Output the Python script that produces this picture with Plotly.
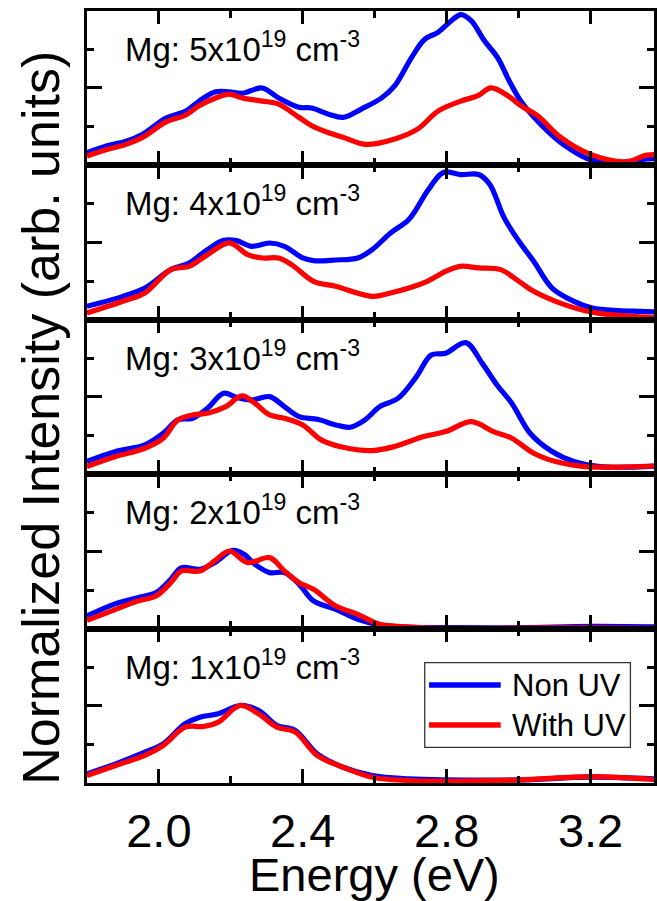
import plotly.graph_objects as go

# ---------------- data ----------------
# Panel labels, top to bottom
labels = ["Mg: 5x10<sup>19</sup> cm<sup>-3</sup>",
          "Mg: 4x10<sup>19</sup> cm<sup>-3</sup>",
          "Mg: 3x10<sup>19</sup> cm<sup>-3</sup>",
          "Mg: 2x10<sup>19</sup> cm<sup>-3</sup>",
          "Mg: 1x10<sup>19</sup> cm<sup>-3</sup>"]
series_names = ["Non UV", "With UV"]
xtick_vals = [2.0, 2.4, 2.8, 3.2]
xtick_text = ["2.0", "2.4", "2.8", "3.2"]

# Mg 5x10^19
E5_non = [1.80, 1.854, 1.909, 1.955, 2.02, 2.075, 2.112, 2.158, 2.195, 2.232, 2.287, 2.333, 2.389, 2.425,
          2.472, 2.513, 2.564, 2.619, 2.656, 2.702, 2.739, 2.776, 2.813, 2.84, 2.868, 2.905, 2.942, 2.974,
          3.006, 3.043, 3.09, 3.136, 3.2, 3.30, 3.356, 3.40]
I5_non = [0.163, 0.25, 0.31, 0.40, 0.61, 0.70, 0.83, 0.95, 0.95, 0.93, 1.0, 0.87, 0.75, 0.74,
          0.66, 0.62, 0.73, 0.87, 1.03, 1.39, 1.63, 1.72, 1.87, 1.95, 1.87, 1.61, 1.39, 1.09,
          0.83, 0.62, 0.40, 0.23, 0.07, 0.034, 0.08, 0.08]
E5_uv = [1.80, 1.854, 1.909, 1.955, 2.02, 2.075, 2.112, 2.158, 2.195, 2.232, 2.287, 2.333, 2.389, 2.425,
         2.472, 2.513, 2.573, 2.656, 2.72, 2.776, 2.84, 2.887, 2.923, 2.97, 3.006, 3.053, 3.117, 3.2,
         3.30, 3.356, 3.40]
I5_uv = [0.12, 0.20, 0.27, 0.36, 0.56, 0.65, 0.77, 0.87, 0.92, 0.87, 0.83, 0.79, 0.62, 0.51,
         0.42, 0.36, 0.27, 0.34, 0.47, 0.70, 0.83, 0.90, 1.0, 0.90, 0.77, 0.64, 0.36, 0.14,
         0.045, 0.13, 0.13]

# Mg 4x10^19
E4_non = [1.80, 1.900, 1.961, 2.033, 2.084, 2.135, 2.180, 2.216, 2.257, 2.308, 2.349, 2.400, 2.430, 2.491,
          2.553, 2.593, 2.644, 2.695, 2.746, 2.782, 2.797, 2.838, 2.889, 2.920, 2.960, 3.001, 3.042, 3.093,
          3.154, 3.205, 3.277, 3.338, 3.40]
I4_non = [0.173, 0.302, 0.410, 0.648, 0.734, 0.907, 1.028, 1.024, 0.950, 0.993, 0.950, 0.799, 0.764, 0.773,
          0.799, 0.907, 1.123, 1.296, 1.663, 1.879, 1.914, 1.879, 1.879, 1.750, 1.318, 1.015, 0.756, 0.410,
          0.238, 0.151, 0.117, 0.108, 0.099]
E4_uv = [1.80, 1.900, 1.961, 2.033, 2.084, 2.135, 2.196, 2.247, 2.288, 2.333, 2.369, 2.430, 2.491, 2.593,
         2.644, 2.695, 2.746, 2.797, 2.838, 2.889, 2.950, 3.001, 3.042, 3.103, 3.185, 3.256, 3.40]
I4_uv = [0.086, 0.238, 0.346, 0.648, 0.691, 0.842, 0.994, 0.842, 0.799, 0.799, 0.713, 0.497, 0.432, 0.302,
         0.346, 0.410, 0.497, 0.626, 0.691, 0.670, 0.648, 0.497, 0.367, 0.238, 0.117, 0.065, 0.022]

# Mg 3x10^19
E3_non = [1.80, 1.880, 1.961, 2.012, 2.053, 2.094, 2.135, 2.180, 2.216, 2.257, 2.308, 2.349, 2.390, 2.441,
          2.492, 2.532, 2.573, 2.614, 2.665, 2.716, 2.757, 2.797, 2.853, 2.899, 2.940, 2.981, 3.032, 3.093,
          3.154, 3.226, 3.307, 3.40]
I3_non = [0.164, 0.293, 0.379, 0.530, 0.703, 0.724, 0.853, 1.047, 0.996, 0.961, 1.004, 0.875, 0.746, 0.711,
          0.638, 0.608, 0.703, 0.875, 0.983, 1.263, 1.543, 1.565, 1.703, 1.435, 1.155, 0.918, 0.530, 0.293,
          0.164, 0.099, 0.091, 0.11]
E3_uv = [1.80, 1.880, 1.961, 2.012, 2.053, 2.094, 2.135, 2.186, 2.231, 2.267, 2.308, 2.349, 2.400, 2.451,
         2.512, 2.593, 2.655, 2.736, 2.797, 2.869, 2.930, 2.981, 3.042, 3.103, 3.185, 3.256, 3.40]
I3_uv = [0.099, 0.228, 0.336, 0.466, 0.703, 0.767, 0.789, 0.875, 1.013, 0.918, 0.767, 0.724, 0.638, 0.444,
         0.349, 0.306, 0.358, 0.487, 0.552, 0.681, 0.552, 0.466, 0.272, 0.164, 0.099, 0.091, 0.11]

# Mg 2x10^19
E2_non = [1.80, 1.880, 1.941, 1.992, 2.033, 2.063, 2.114, 2.155, 2.206, 2.237, 2.267, 2.308, 2.349, 2.390,
          2.430, 2.492, 2.553, 2.614, 2.695, 2.797, 3.001, 3.205, 3.40]
I2_non = [0.164, 0.324, 0.402, 0.467, 0.640, 0.791, 0.769, 0.855, 1.015, 0.963, 0.834, 0.726, 0.726, 0.575,
          0.359, 0.251, 0.121, 0.048, 0.022, 0.013, 0.013, 0.030, 0.022]
E2_uv = [1.80, 1.880, 1.941, 1.992, 2.033, 2.063, 2.114, 2.155, 2.196, 2.247, 2.308, 2.349, 2.390, 2.430,
         2.492, 2.553, 2.614, 2.695, 2.797, 3.001, 3.205, 3.40]
I2_uv = [0.108, 0.251, 0.359, 0.423, 0.596, 0.747, 0.747, 0.877, 1.006, 0.855, 0.920, 0.747, 0.596, 0.510,
         0.294, 0.186, 0.056, 0.022, 0.004, 0.008, 0.012, 0.005]

# Mg 1x10^19
E1_non = [1.80, 1.880, 1.961, 2.012, 2.073, 2.114, 2.165, 2.226, 2.277, 2.328, 2.379, 2.440, 2.512, 2.593,
          2.695, 2.797, 3.001, 3.205, 3.40]
I1_non = [0.121, 0.251, 0.402, 0.510, 0.769, 0.855, 0.898, 1.006, 0.942, 0.747, 0.683, 0.380, 0.207, 0.099,
          0.056, 0.043, 0.043, 0.078, 0.05]
E1_uv = [1.80, 1.880, 1.961, 2.012, 2.073, 2.124, 2.165, 2.226, 2.277, 2.328, 2.379, 2.440, 2.512, 2.593,
         2.695, 2.797, 3.001, 3.205, 3.40]
I1_uv = [0.099, 0.229, 0.359, 0.488, 0.726, 0.734, 0.791, 1.006, 0.898, 0.726, 0.661, 0.359, 0.207, 0.078,
         0.035, 0.026, 0.043, 0.086, 0.04]

# ---------------- layout geometry (pixels) ----------------
W, H = 657, 901
PL, PR = 87.3, 657.0          # plot left / right (right spine lies just outside the crop)
PT, PH = 10.7, 154.5          # top of first panel, panel height
PX_PER_EV = 361.4
XMIN = 1.8
XMAX = XMIN + (PR - PL) / PX_PER_EV

FONT = "Liberation Sans, Arial, Helvetica, sans-serif"
BLUE, RED = "#0000FF", "#FF0000"
LW = 5.2

panels = [(E5_non, I5_non, E5_uv, I5_uv),
          (E4_non, I4_non, E4_uv, I4_uv),
          (E3_non, I3_non, E3_uv, I3_uv),
          (E2_non, I2_non, E2_uv, I2_uv),
          (E1_non, I1_non, E1_uv, I1_uv)]


def fx(px):
    return px / W


def fy(py):
    return 1 - py / H


fig = go.Figure()
layout = {}
annotations = []
n = len(panels)
for i, (eb, ib, er, ir) in enumerate(panels):
    k = i + 1
    xa = "x" if k == 1 else f"x{k}"
    ya = "y" if k == 1 else f"y{k}"
    fig.add_trace(go.Scatter(x=eb, y=ib, mode="lines", name=series_names[0], showlegend=False,
                             line=dict(color=BLUE, width=LW, shape="spline", smoothing=1.0),
                             xaxis=xa, yaxis=ya))
    fig.add_trace(go.Scatter(x=er, y=ir, mode="lines", name=series_names[1], showlegend=False,
                             line=dict(color=RED, width=LW, shape="spline", smoothing=1.0),
                             xaxis=xa, yaxis=ya))
    top = PT + PH * i
    bot = top + PH
    last = (k == n)
    layout[f"xaxis{k}"] = dict(
        domain=[fx(PL), fx(PR)], range=[XMIN, XMAX], anchor=ya,
        showline=True, linecolor="black", linewidth=2.5, mirror="ticks",
        ticks="inside", ticklen=14, tickwidth=2.5, tickcolor="black",
        tickmode="array", tickvals=xtick_vals, ticktext=xtick_text,
        showticklabels=last, showgrid=False, zeroline=False,
        tickfont=dict(family=FONT, size=47, color="black"),
        minor=dict(tickmode="array", tickvals=[2.2, 2.6, 3.0, 3.4], ticks="inside",
                   ticklen=7.5, tickwidth=2.5, tickcolor="black", showgrid=False),
    )
    if last:
        layout[f"xaxis{k}"]["ticklabelstandoff"] = 5
    layout[f"yaxis{k}"] = dict(
        domain=[fy(bot), fy(top)], range=[0, 2], anchor=xa,
        showline=True, linecolor="black", linewidth=2.5, mirror="ticks",
        ticks="inside", ticklen=15, tickwidth=2.5, tickcolor="black",
        tickmode="array", tickvals=[1.0], showticklabels=False,
        showgrid=False, zeroline=False,
        minor=dict(tickmode="array", tickvals=[0.5, 1.5], ticks="inside",
                   ticklen=7.5, tickwidth=2.5, tickcolor="black", showgrid=False),
    )
    annotations.append(dict(text=labels[i], x=fx(124), y=fy(top + 36), xref="paper", yref="paper",
                            xanchor="left", yanchor="middle", showarrow=False,
                            font=dict(family=FONT, size=33, color="black")))

# axis titles
annotations.append(dict(text="Energy (eV)", x=fx((PL + 665.5) / 2), y=fy(874), xref="paper", yref="paper",
                        xanchor="center", yanchor="middle", showarrow=False,
                        font=dict(family=FONT, size=47, color="black")))
annotations.append(dict(text="Normalized Intensity (arb. units)", x=fx(41), y=fy(418),
                        xref="paper", yref="paper", xanchor="center", yanchor="middle",
                        textangle=-90, showarrow=False,
                        font=dict(family=FONT, size=52, color="black")))

# legend (drawn in the bottom panel)
LX0, LX1, LY0, LY1 = 426.7, 633.3, 662.7, 747.3
shapes = [dict(type="rect", xref="paper", yref="paper", x0=fx(LX0), x1=fx(LX1), y0=fy(LY1), y1=fy(LY0),
               line=dict(color="#333333", width=1.3), fillcolor="white", layer="above")]
for j, (nm, col, yy) in enumerate([(series_names[0], BLUE, 685), (series_names[1], RED, 725)]):
    shapes.append(dict(type="line", xref="paper", yref="paper", x0=fx(431), x1=fx(503), y0=fy(yy), y1=fy(yy),
                       line=dict(color=col, width=5.3), layer="above"))
    annotations.append(dict(text=nm, x=fx(512), y=fy(yy), xref="paper", yref="paper",
                            xanchor="left", yanchor="middle", showarrow=False,
                            font=dict(family=FONT, size=31, color="black")))

fig.update_layout(width=W, height=H, margin=dict(l=0, r=0, t=0, b=0),
                  paper_bgcolor="white", plot_bgcolor="white",
                  showlegend=False, annotations=annotations, shapes=shapes, **layout)

fig.write_html("out.html")
